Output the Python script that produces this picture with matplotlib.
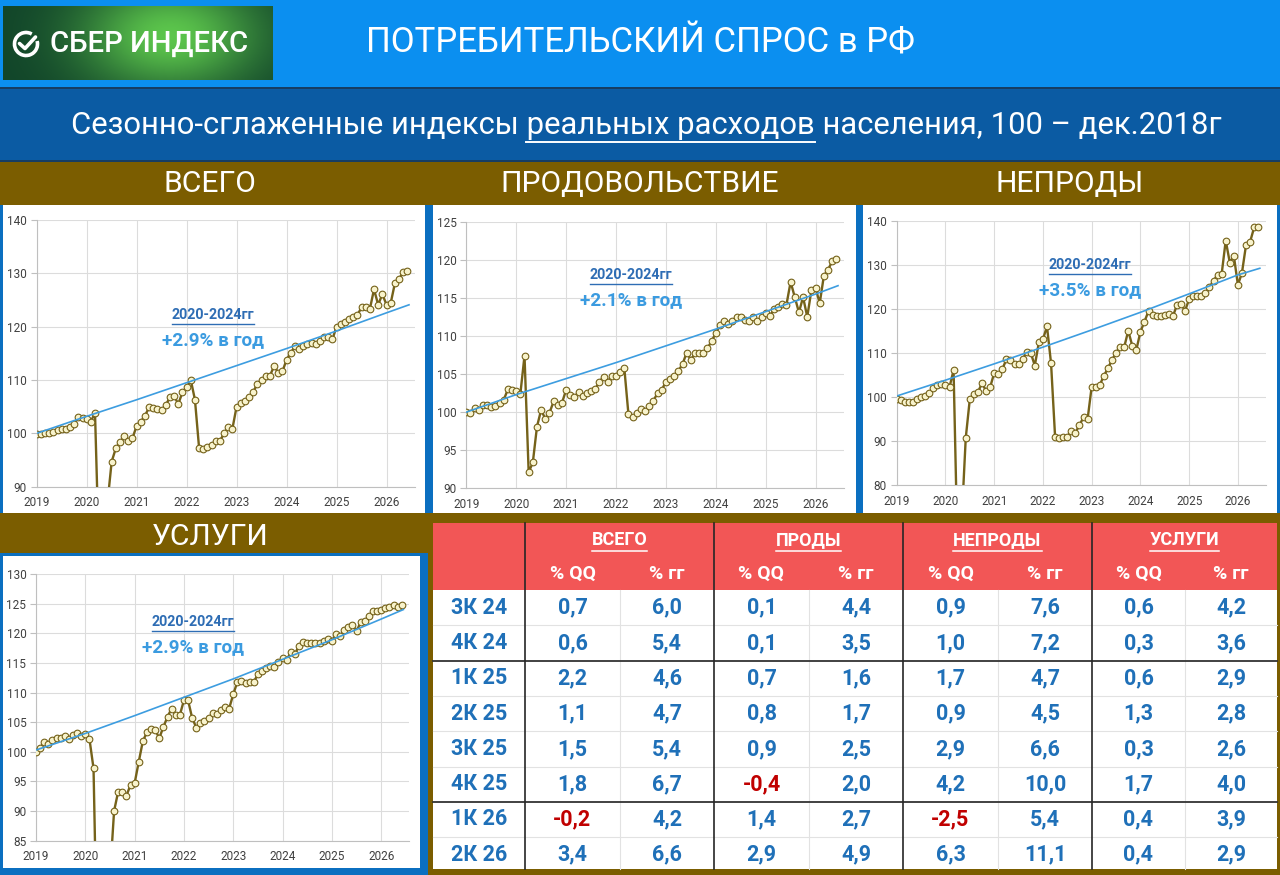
import numpy as np
import matplotlib.pyplot as plt
from matplotlib.patches import Rectangle, Arc
from matplotlib.lines import Line2D
from matplotlib.colors import LinearSegmentedColormap

plt.rcParams['font.family'] = ['Roboto', 'DejaVu Sans']

# Monthly indices Jan 2019 .. Jun 2026 (100 = Dec 2018)
total = [
    99.8, 99.8, 100.1, 100.1, 100.3, 100.6, 100.8, 100.9, 101.2, 101.7, 103.1, 102.8,
    102.6, 102.2, 103.9, 76.0, 81.0, 87.0, 94.7, 97.2, 98.3, 99.5, 98.6, 99.1,
    101.4, 102.2, 103.3, 104.9, 104.7, 104.5, 104.4, 105.3, 106.8, 107.0, 105.5, 107.7,
    108.6, 110.0, 106.3, 97.2, 97.1, 97.5, 97.8, 98.6, 98.6, 100.0, 101.1, 100.9,
    105.0, 105.6, 106.0, 106.9, 107.8, 109.3, 110.0, 110.8, 110.8, 112.6, 111.4, 111.6,
    113.8, 115.1, 116.3, 115.8, 116.3, 116.8, 117.0, 116.8, 117.3, 118.0, 118.0, 117.6,
    120.0, 120.5, 120.9, 121.4, 121.8, 122.2, 123.6, 123.6, 123.3, 127.0, 124.1, 126.1,
    124.1, 124.4, 128.1, 128.9, 130.3, 130.4,
]
food = [
    100.0, 99.9, 100.6, 100.3, 100.9, 100.9, 100.7, 100.8, 101.2, 101.6, 103.0, 102.9,
    102.8, 102.4, 107.4, 92.1, 93.4, 98.1, 100.3, 99.1, 99.9, 101.4, 100.9, 101.2,
    102.9, 102.3, 102.0, 102.6, 102.1, 102.5, 102.8, 103.0, 104.0, 104.6, 104.0, 104.7,
    104.7, 105.3, 105.8, 99.7, 99.4, 99.9, 100.4, 100.2, 100.8, 101.5, 102.5, 102.9,
    104.0, 104.4, 104.8, 105.4, 106.3, 107.8, 106.9, 107.7, 107.7, 107.7, 108.4, 109.3,
    110.4, 111.4, 111.9, 111.6, 112.0, 112.5, 112.5, 112.1, 112.0, 112.5, 111.9, 112.5,
    113.0, 112.6, 113.5, 113.8, 114.2, 114.1, 117.1, 115.1, 113.1, 115.1, 112.5, 116.0,
    116.3, 114.3, 117.9, 118.7, 119.8, 120.1,
]
nonfood = [
    99.5, 99.2, 98.9, 98.8, 98.8, 99.5, 99.9, 100.2, 100.8, 102.0, 102.7, 102.9,
    102.7, 102.2, 106.1, 64.0, 72.0, 90.7, 99.5, 100.7, 101.1, 103.1, 101.4, 102.2,
    105.4, 105.1, 106.3, 108.5, 108.4, 107.5, 107.5, 108.5, 110.3, 110.0, 107.1, 112.4,
    113.1, 116.0, 107.6, 90.8, 90.7, 90.8, 91.0, 92.3, 91.9, 93.6, 95.4, 95.0,
    102.3, 102.3, 102.7, 104.8, 106.5, 108.4, 110.0, 111.4, 111.3, 115.0, 111.6, 110.7,
    114.8, 117.1, 119.5, 118.5, 118.4, 118.4, 118.6, 118.8, 118.3, 120.9, 121.0, 119.6,
    122.2, 122.9, 122.9, 122.9, 123.5, 124.9, 126.4, 127.7, 127.9, 135.5, 130.5, 132.0,
    125.4, 128.2, 134.5, 135.2, 138.5, 138.6,
]
services = [
    99.9, 100.7, 101.6, 101.4, 102.0, 102.4, 102.3, 102.6, 102.2, 102.8, 103.1, 102.6,
    103.0, 102.2, 97.2, 62.0, 66.0, 72.0, 79.0, 90.0, 93.3, 93.3, 92.6, 94.4,
    94.7, 98.3, 101.8, 103.3, 103.9, 103.7, 102.3, 104.2, 105.9, 107.3, 106.2, 106.2,
    108.7, 108.7, 105.7, 104.1, 104.8, 105.2, 105.7, 106.5, 106.3, 107.1, 107.5, 107.3,
    109.7, 111.8, 112.0, 111.6, 111.7, 111.8, 113.1, 113.7, 114.2, 114.4, 114.3, 115.1,
    115.8, 115.5, 116.8, 116.5, 117.9, 118.5, 118.3, 118.3, 118.3, 118.4, 118.7, 119.0,
    118.7, 119.8, 119.5, 120.6, 121.1, 121.4, 120.3, 121.9, 122.1, 122.9, 123.8, 123.8,
    124.0, 124.3, 124.5, 124.8, 124.5, 124.7,
]

# 2020-2024 trend lines, read at the year marks
trend_x = [2019, 2020, 2021, 2022, 2023, 2024, 2025, 2026, 2026.45]
trend_total = [100.0, 103.2, 106.3, 109.5, 112.7, 115.9, 119.2, 122.6, 124.1]
trend_food = [100.0, 102.3, 104.4, 106.5, 108.7, 110.9, 113.2, 115.5, 116.6]
trend_nonfood = [100.2, 103.8, 107.5, 111.3, 115.2, 119.2, 123.4, 127.7, 129.2]
trend_services = [100.3, 103.1, 106.1, 109.2, 112.3, 115.6, 118.9, 122.4, 124.0]

years = [2019, 2020, 2021, 2022, 2023, 2024, 2025, 2026]

# table
quarters = ['3К 24', '4К 24', '1К 25', '2К 25', '3К 25', '4К 25', '1К 26', '2К 26']
total_qq = [0.7, 0.6, 2.2, 1.1, 1.5, 1.8, -0.2, 3.4]
total_yy = [6.0, 5.4, 4.6, 4.7, 5.4, 6.7, 4.2, 6.6]
food_qq = [0.1, 0.1, 0.7, 0.8, 0.9, -0.4, 1.4, 2.9]
food_yy = [4.4, 3.5, 1.6, 1.7, 2.5, 2.0, 2.7, 4.9]
nonfood_qq = [0.9, 1.0, 1.7, 0.9, 2.9, 4.2, -2.5, 6.3]
nonfood_yy = [7.6, 7.2, 4.7, 4.5, 6.6, 10.0, 5.4, 11.1]
serv_qq = [0.6, 0.3, 0.6, 1.3, 0.3, 1.7, 0.4, 0.4]
serv_yy = [4.2, 3.6, 2.9, 2.8, 2.6, 4.0, 3.9, 2.9]
groups = ['ВСЕГО', 'ПРОДЫ', 'НЕПРОДЫ', 'УСЛУГИ']

TOP = '#0b8ff0'
SUB = '#0b5ba3'
BROWN = '#7b5d00'
BLUE = '#0b6fc0'
RED = '#f25656'
NUM = '#1f70b8'
NEG = '#c00000'
LINE = '#75621a'
DOT = '#f8f3cc'
TREND = '#3d9de0'

W, H = 1280, 875
fig = plt.figure(figsize=(12.8, 8.75), dpi=100)
bg = fig.add_axes([0, 0, 1, 1])
bg.set_xlim(0, W)
bg.set_ylim(H, 0)
bg.axis('off')
r = fig.canvas.get_renderer()


def box(x, y, w, h, color, z=1):
    bg.add_patch(Rectangle((x, y), w, h, facecolor=color, edgecolor='none', zorder=z))


def px(x, y, w, h):
    return [x / W, 1 - (y + h) / H, w / W, h / H]


def fit(ax, s, x, y, width, **kw):
    t = ax.text(x, y, s, fontsize=20, transform=bg.transData, **kw)
    t.set_fontsize(20 * width / t.get_window_extent(r).width)
    return t


def underline(ax, t, color, lw=1.2, gap=1.5):
    bb = t.get_window_extent(r)
    yy = H - bb.y0 + gap
    ax.add_artist(Line2D([bb.x0, bb.x1], [yy, yy], color=color, lw=lw,
                         transform=bg.transData))


# backgrounds
box(0, 0, W, H, BROWN, 0)
box(0, 0, W, 87, TOP)
box(0, 87, W, 75, '#163d63')
box(0, 89, W, 71, SUB)
box(0, 205, W, 308, BLUE)
box(3, 205, 422, 308, 'white', 2)
box(433, 205, 423, 308, 'white', 2)
box(863, 205, 414, 308, 'white', 2)
box(0, 553, 428, 322, BLUE)
box(3, 556, 417, 312, 'white', 2)

# logo
gx, gy = np.meshgrid(np.linspace(0, 1, 270), np.linspace(0, 1, 74))
glow = np.exp(-((gx - 0.62) / 0.33) ** 2 - ((gy - 0.4) / 0.75) ** 2)
greens = LinearSegmentedColormap.from_list('g', ['#12462a', '#5cc54c'])
bg.imshow(glow, cmap=greens, extent=(3, 273, 80, 6), aspect='auto', zorder=2)
bg.set_xlim(0, W)
bg.set_ylim(H, 0)
bg.add_patch(Arc((26, 44), 23, 23, theta1=-15, theta2=300, color='white', lw=2.6, zorder=3))
bg.plot([19.5, 25, 35.5], [43.5, 48.5, 37], color='white', lw=2.6,
        solid_capstyle='round', solid_joinstyle='round', zorder=3)
fit(bg, 'СБЕР ИНДЕКС', 50, 44, 198, color='white', fontweight='medium', ha='left', va='center', zorder=3)

# titles
fit(bg, 'ПОТРЕБИТЕЛЬСКИЙ СПРОС в РФ', 640, 43, 550, color='white', ha='center', va='center', zorder=3)
pre = 'Сезонно-сглаженные индексы '
mid = 'реальных расходов'
sub = fit(bg, pre + mid + ' населения, 100 – дек.2018г', 646, 126, 1152,
          color='white', ha='center', va='center', zorder=3)


def tw(s, size):
    t = bg.text(0, 0, s, fontsize=size)
    w = t.get_window_extent(r).width
    t.remove()
    return w


sz = sub.get_fontsize()
bb = sub.get_window_extent(r)
u0 = bb.x0 + tw(pre + 'р', sz) - tw('р', sz)
u1 = bb.x0 + tw(pre + mid, sz)
bg.plot([u0, u1], [H - bb.y0 + 1, H - bb.y0 + 1], color='white', lw=1.4, zorder=3)

lab = fit(bg, 'ПРОДОВОЛЬСТВИЕ', 640, 184, 278, color='white', ha='center', va='center', zorder=3)
ls = lab.get_fontsize()
for s, x, y in [('ВСЕГО', 210, 184), ('НЕПРОДЫ', 1070, 184), ('УСЛУГИ', 210, 537)]:
    bg.text(x, y, s, fontsize=ls, color='white', ha='center', va='center', zorder=3)

# charts
month_x = 2019 + np.arange(len(total)) / 12


def chart(rect, vals, trend, ylim, ystep, rate, note_x, note_y):
    ax = fig.add_axes(px(*rect))
    ax.set_facecolor('none')
    ax.plot(month_x, vals, color=LINE, lw=1.7, marker='o', ms=4.8, mfc=DOT, mec=LINE,
            mew=0.8, zorder=3)
    ax.plot(trend_x, trend, color=TREND, lw=1.2, zorder=4)
    ax.set_xlim(2019, 2026.57)
    ax.set_ylim(*ylim)
    ax.set_xticks(years)
    ax.set_xticklabels([str(y) for y in years])
    ax.set_yticks(np.arange(ylim[0], ylim[1] + 1, ystep))
    ax.grid(color='#dcdcdc', lw=0.8)
    ax.set_axisbelow(True)
    for s in ['top', 'right']:
        ax.spines[s].set_visible(False)
    for s in ['left', 'bottom']:
        ax.spines[s].set_color('#bfbfbf')
    ax.tick_params(axis='y', length=4, color='#bfbfbf', labelsize=8.5, labelcolor='#404040', pad=3)
    ax.tick_params(axis='x', length=0, labelsize=8.5, labelcolor='#404040', pad=7)
    t = fit(ax, '2020-2024гг', note_x, note_y, 83, color='#2e6db4', fontweight='bold',
            ha='center', va='center', zorder=5)
    underline(ax, t, '#2e6db4', lw=1.0)
    fit(ax, rate, note_x, note_y + 25, 102, color='#3b9be0', fontweight='bold',
        ha='center', va='center', zorder=5)
    return ax


chart((36.7, 220, 378.3, 266.7), total, trend_total, (90, 140), 10, '+2.9% в год', 213, 315)
chart((466.3, 221.7, 377.7, 266.6), food, trend_food, (90, 125), 5, '+2.1% в год', 631, 275)
chart((896.7, 220.7, 369, 264.3), nonfood, trend_nonfood, (80, 140), 10, '+3.5% в год', 1090, 265)
chart((36, 574, 373.3, 266.7), services, trend_services, (85, 130), 5, '+2.9% в год', 193, 622)

# table
xe = [433, 525, 620, 714, 809, 903, 998, 1092, 1185, 1277]
top, head, row_h = 523, 590, 35.3
bottom = 869
box(433, top, 844, head - top, RED, 2)
box(433, head, 844, bottom - head, 'white', 2)

for i in range(1, len(quarters)):
    y = head + i * row_h
    if i in (2, 6):
        bg.plot([433, 1277], [y, y], color='#333333', lw=1.3, zorder=4)
    else:
        bg.plot([433, 1277], [y, y], color='#e2e2e2', lw=0.8, zorder=3)
for x in [620, 809, 998, 1185]:
    bg.plot([x, x], [head, bottom], color='#e2e2e2', lw=0.8, zorder=3)
for x in [525, 714, 903, 1092]:
    bg.plot([x, x], [top, bottom], color='#262626', lw=1.2, zorder=4)

for g, name in enumerate(groups):
    xc = (xe[1 + 2 * g] + xe[3 + 2 * g]) / 2
    t = bg.text(xc, 540, name, fontsize=13, color='white', fontweight='bold',
                ha='center', va='center', zorder=5)
    underline(bg, t, 'white', lw=1.1)
    for k, s in enumerate(['% QQ', '% гг']):
        xs = (xe[1 + 2 * g + k] + xe[2 + 2 * g + k]) / 2
        bg.text(xs, 574, s, fontsize=14, color='white', fontweight='bold',
                ha='center', va='center', zorder=5)

columns = [total_qq, total_yy, food_qq, food_yy, nonfood_qq, nonfood_yy, serv_qq, serv_yy]
for i, q in enumerate(quarters):
    yc = head + (i + 0.5) * row_h
    bg.text(479, yc, q, fontsize=15.5, color=NUM, fontweight='bold', ha='center', va='center', zorder=5)
    for c, col in enumerate(columns):
        v = col[i]
        xs = (xe[1 + c] + xe[2 + c]) / 2
        bg.text(xs, yc, f'{v:.1f}'.replace('.', ','), fontsize=15.5, fontweight='bold',
                color=NEG if v < 0 else NUM, ha='center', va='center', zorder=5)

fig.savefig('out.png', dpi=100)
